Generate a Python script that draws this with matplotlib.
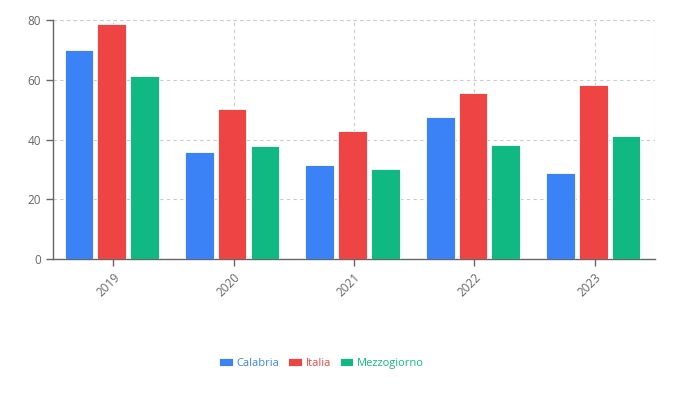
import matplotlib.pyplot as plt
import numpy as np

plt.rcParams['font.family'] = ['Open Sans', 'DejaVu Sans']

years = ['2019', '2020', '2021', '2022', '2023']
calabria = [69.8, 35.9, 31.5, 47.6, 28.9]
italia = [78.5, 50.3, 42.7, 55.7, 58.3]
mezzogiorno = [61.3, 37.7, 30.2, 38.3, 41.2]

series = [('Calabria', calabria, '#3b82f6'),
          ('Italia', italia, '#ef4444'),
          ('Mezzogiorno', mezzogiorno, '#10b981')]

fig = plt.figure(figsize=(6.96, 3.97), dpi=100)
ax = fig.add_axes([0.0762, 0.3476, 0.8648, 0.602])

x = np.arange(len(years))
step = 0.272
width = 0.238
handles = []
for i, (name, vals, col) in enumerate(series):
    b = ax.bar(x - 0.012 + (i - 1) * step, vals, width, color=col, edgecolor='white',
               linewidth=0.6, label=name, zorder=3)
    handles.append(b)

ax.set_xlim(-0.5, len(years) - 0.5)
ax.set_ylim(0, 80)
ax.set_yticks([0, 20, 40, 60, 80])
ax.set_xticks(x)
ax.set_xticklabels(years, rotation=45, ha='right', rotation_mode='anchor')

ax.grid(True, color='#cccccc', linestyle=(0, (3, 3)), linewidth=0.8, zorder=0)
ax.axvline(len(years) - 0.5, color='#cccccc', linestyle=(0, (3, 3)), linewidth=0.8, zorder=0)
ax.axhline(80, color='#cccccc', linestyle=(0, (3, 3)), linewidth=0.8, zorder=0)

for s in ['top', 'right']:
    ax.spines[s].set_visible(False)
for s in ['left', 'bottom']:
    ax.spines[s].set_color('#666666')
    ax.spines[s].set_linewidth(1)
ax.tick_params(colors='#666666', labelsize=8.5, length=5, width=1)

leg = fig.legend(handles=handles, loc='center', bbox_to_anchor=(0.462, 0.085),
                 ncol=3, frameon=False, fontsize=8, handlelength=1.2,
                 handleheight=0.85, handletextpad=0.35, columnspacing=0.8)
for t, (_, _, col) in zip(leg.get_texts(), series):
    t.set_color(col)

fig.savefig('out.png', dpi=100)
